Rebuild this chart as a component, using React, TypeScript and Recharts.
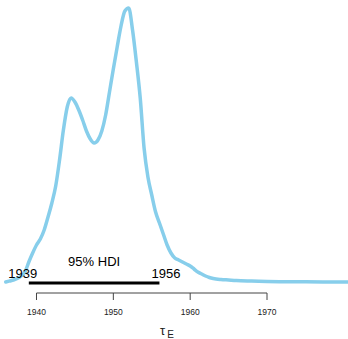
import React from "react";
import { LineChart, Line, XAxis, YAxis, ReferenceLine, ReferenceDot } from "recharts";

// posterior density of tau_E (relative units)
const years = [
  1936, 1936.5, 1937, 1937.5, 1938, 1938.5, 1939, 1939.5, 1940, 1940.5,
  1941, 1941.5, 1942, 1942.5, 1943, 1943.5, 1944, 1944.5, 1945, 1945.5,
  1946, 1946.5, 1947, 1947.5, 1948, 1948.5, 1949, 1949.5, 1950, 1950.5,
  1951, 1951.5, 1952, 1952.5, 1953, 1953.5, 1954, 1954.5, 1955, 1955.5,
  1956, 1956.5, 1957, 1957.5, 1958, 1958.5, 1959, 1959.5, 1960, 1960.5,
  1961, 1961.5, 1962, 1962.5, 1963, 1964, 1965, 1966, 1968, 1970, 1975, 1980.54,
];
const density = [
  0, 1, 2, 3.5, 6, 10, 20, 29, 37, 43,
  52, 65, 79, 96, 122, 152, 175, 184, 180, 172,
  162, 151, 143, 139, 142, 151, 167, 190, 213, 235,
  256, 271, 274, 252, 220, 184, 134, 105, 87, 70,
  59, 48, 37, 29, 24, 22, 20, 18, 16, 13,
  10, 8, 6, 4.5, 3.5, 2.5, 2, 1.5, 1, 0.6, 0.2, 0,
];
const xTicks = [1940, 1950, 1960, 1970];
const hdiLow = 1939;
const hdiHigh = 1956;
const hdiLabel = "95% HDI";

const data = years.map((x, i) => ({ x, d: density[i] }));
const FONT = "'Liberation Sans', Arial, Helvetica, sans-serif";

export default function App() {
  return (
    <div style={{ position: "absolute", left: 0, top: 0 }}>
      <LineChart width={348} height={339} data={data} margin={{ top: 0, right: 0, bottom: 0, left: 0 }}>
        <XAxis
          type="number"
          dataKey="x"
          domain={[1935.25, 1980.54]}
          allowDataOverflow
          ticks={xTicks}
          axisLine={false}
          tickLine={{ stroke: "#444" }}
          tickSize={7}
          tickMargin={9}
          height={46}
          tick={{ fontSize: 8.5, fill: "#222", fontFamily: FONT }}
          label={{
            content: (props: any) => {
              const vb = props.viewBox;
              return (
                <text x={vb.x + vb.width / 2 - 14} y={vb.y + 42} fontSize={13} fill="#222" fontFamily={FONT}>
                  τ
                  <tspan dx={2} dy={3} fontSize={10}>E</tspan>
                </text>
              );
            },
          }}
        />
        <YAxis hide type="number" domain={[-11, 282]} allowDataOverflow />
        <ReferenceLine
          segment={[{ x: 1940, y: -11 }, { x: 1970, y: -11 }]}
          stroke="#444"
          strokeWidth={1}
          ifOverflow="visible"
        />
        <Line
          type="monotone"
          dataKey="d"
          stroke="#87CEEB"
          strokeWidth={3.5}
          strokeLinecap="round"
          dot={false}
          activeDot={false}
          isAnimationActive={false}
        />
        <ReferenceLine
          segment={[{ x: hdiLow, y: -1 }, { x: hdiHigh, y: -1 }]}
          stroke="#000"
          strokeWidth={3}
          ifOverflow="visible"
        />
        <ReferenceDot
          x={hdiLow}
          y={4}
          r={0}
          ifOverflow="visible"
          shape={(p: any) => (
            <text x={p.cx - 6} y={p.cy} textAnchor="middle" fontSize={13} fill="#000" fontFamily={FONT}>
              {String(hdiLow)}
            </text>
          )}
        />
        <ReferenceDot
          x={hdiHigh}
          y={4}
          r={0}
          ifOverflow="visible"
          shape={(p: any) => (
            <text x={p.cx + 6.5} y={p.cy} textAnchor="middle" fontSize={13} fill="#000" fontFamily={FONT}>
              {String(hdiHigh)}
            </text>
          )}
        />
        <ReferenceDot
          x={(hdiLow + hdiHigh) / 2}
          y={16}
          r={0}
          ifOverflow="visible"
          shape={(p: any) => (
            <text x={p.cx} y={p.cy} textAnchor="middle" fontSize={13} fill="#000" fontFamily={FONT}>
              {hdiLabel}
            </text>
          )}
        />
      </LineChart>
    </div>
  );
}
